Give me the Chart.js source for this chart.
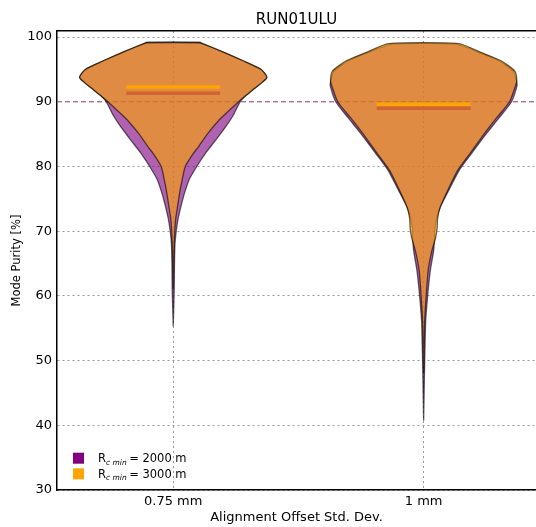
<!DOCTYPE html>
<html>
<head>
    <title>RUN01ULU</title>
    <script src="https://cdn.jsdelivr.net/npm/chart.js"></script>
    <style>
        body { margin: 0; background: #fff; }
    </style>
</head>
<body>
    <canvas id="violinChart" width="536" height="527"></canvas>
    <script>
        // categories on the x axis (positions 0 and 1)
        const categories = ['0.75 mm', '1 mm'];
        const xTicks = [0, 1];
        const yTicks = [30, 40, 50, 60, 70, 80, 90, 100];
        const legendLabels = ['2000 m', '3000 m'];

        // violin outlines: purity levels and half widths (x-axis units)
        const purpleLevels075 = [55.3, 58, 61, 65, 68, 70, 72, 74, 76, 78, 80, 82, 84, 86, 88, 90, 91, 92, 93, 93.8, 95, 96.3, 97.8, 98.9, 99.2];
        const purpleWidths075 = [0, 0.002, 0.004, 0.005, 0.007, 0.012, 0.020, 0.032, 0.046, 0.064, 0.094, 0.128, 0.168, 0.207, 0.241, 0.267, 0.291, 0.323, 0.355, 0.374, 0.351, 0.281, 0.193, 0.122, 0.104];
        const orangeLevels075 = [61, 64, 67, 70, 72, 74, 76, 78, 80, 82, 83, 85, 87, 88.5, 90, 91, 92, 93, 93.8, 95, 96.3, 97.8, 98.9, 99.1];
        const orangeWidths075 = [0, 0.002, 0.003, 0.006, 0.010, 0.018, 0.026, 0.036, 0.048, 0.080, 0.100, 0.136, 0.179, 0.219, 0.261, 0.291, 0.323, 0.355, 0.374, 0.351, 0.281, 0.193, 0.122, 0.104];

        const purpleLevels1 = [40.7, 45, 49.7, 53, 56, 60, 64, 67, 69, 70.5, 72, 73.7, 76.3, 79.4, 82, 85, 87.5, 90, 92.5, 93.2, 94.7, 96.3, 97.6, 98.9];
        const purpleWidths1 = [0, 0.002, 0.004, 0.006, 0.008, 0.016, 0.027, 0.040, 0.044, 0.046, 0.052, 0.066, 0.100, 0.142, 0.191, 0.249, 0.301, 0.351, 0.373, 0.371, 0.359, 0.303, 0.223, 0.128];
        const orangeLevels1 = [48, 52, 56, 60, 64, 67, 69, 70.5, 72, 73.7, 76.3, 79.4, 82, 85, 87.5, 90, 92.5, 93.2, 94.7, 96.3, 97.6, 99];
        const orangeWidths1 = [0, 0.002, 0.004, 0.010, 0.018, 0.033, 0.048, 0.054, 0.056, 0.066, 0.096, 0.136, 0.185, 0.241, 0.291, 0.343, 0.367, 0.372, 0.365, 0.311, 0.231, 0.140];

        // mean purity per category
        const purpleMeans = [91.3, 89.0];
        const orangeMeans = [92.3, 89.6];
        const meanHalfWidth = 0.1875;
        const refLine = 90;

        const FONT = '"DejaVu Sans", sans-serif';

        const violinPoints = (center, levels, widths) => {
            const right = levels.map((y, i) => ({ x: center + widths[i], y: y }));
            const left = levels.map((y, i) => ({ x: center - widths[i], y: y })).reverse();
            return right.concat(left);
        };

        const violin = (center, levels, widths, fillColor, order) => ({
            data: violinPoints(center, levels, widths),
            backgroundColor: fillColor,
            borderColor: 'rgba(0, 0, 0, 0.6)',
            borderWidth: 1.3,
            fill: 'shape',
            tension: 0.2,
            pointRadius: 0,
            order: order
        });

        const meanLine = (center, value, color, order) => ({
            data: [{ x: center - meanHalfWidth, y: value }, { x: center + meanHalfWidth, y: value }],
            borderColor: color,
            borderWidth: 3.5,
            fill: false,
            pointRadius: 0,
            order: order
        });

        const xMin = -0.4641, xMax = 1.4487;

        const datasets = [
            violin(0, purpleLevels075, purpleWidths075, 'rgba(128, 0, 128, 0.62)', 5),
            violin(1, purpleLevels1, purpleWidths1, 'rgba(128, 0, 128, 0.62)', 5),
            meanLine(0, purpleMeans[0], '#800080', 4),
            meanLine(1, purpleMeans[1], '#800080', 4),
            violin(0, orangeLevels075, orangeWidths075, 'rgba(255, 165, 0, 0.61)', 3),
            violin(1, orangeLevels1, orangeWidths1, 'rgba(255, 165, 0, 0.61)', 3),
            meanLine(0, orangeMeans[0], '#FFA500', 2),
            meanLine(1, orangeMeans[1], '#FFA500', 2),
            {
                data: [{ x: xMin, y: refLine }, { x: xMax, y: refLine }],
                borderColor: '#8a3a66',
                borderWidth: 1,
                borderDash: [5, 3],
                fill: false,
                pointRadius: 0,
                order: 6
            }
        ];

        // legend with subscript text, drawn inside the plot
        const subLegend = {
            id: 'subLegend',
            afterDatasetsDraw(chart) {
                const { ctx, chartArea } = chart;
                const colors = ['#800080', '#FFA500'];
                ctx.save();
                legendLabels.forEach((lab, i) => {
                    const x = chartArea.left + 16;
                    const y = chartArea.bottom - 37.3 + i * 15.6;
                    ctx.fillStyle = colors[i];
                    ctx.fillRect(x, y, 11, 11);
                    ctx.fillStyle = '#000';
                    ctx.textBaseline = 'alphabetic';
                    let tx = x + 25;
                    const base = y + 9.5;
                    ctx.font = '11.5px ' + FONT;
                    ctx.fillText('R', tx, base);
                    tx += ctx.measureText('R').width;
                    ctx.font = 'italic 7.5px ' + FONT;
                    ctx.fillText('c min', tx, base + 2.5);
                    tx += ctx.measureText('c min').width + 2.5;
                    ctx.font = '11.5px ' + FONT;
                    ctx.fillText('= ' + lab, tx, base);
                });
                ctx.restore();
            }
        };

        new Chart(document.getElementById('violinChart').getContext('2d'), {
            type: 'line',
            data: { datasets: datasets },
            plugins: [subLegend],
            options: {
                responsive: false,
                animation: false,
                layout: { padding: 0 },
                plugins: {
                    legend: { display: false },
                    tooltip: { enabled: false }
                },
                scales: {
                    x: {
                        type: 'linear',
                        min: xMin,
                        max: xMax,
                        afterBuildTicks: scale => { scale.ticks = xTicks.map(v => ({ value: v })); },
                        afterFit: scale => { scale.height = 37; },
                        ticks: {
                            callback: value => categories[value],
                            color: '#000',
                            font: { family: FONT, size: 13 },
                            padding: 4,
                            maxRotation: 0
                        },
                        grid: { color: '#999', lineWidth: 1, drawTicks: false },
                        border: { display: true, color: '#000', width: 1.5, dash: [2, 3] },
                        title: {
                            display: true,
                            text: 'Alignment Offset Std. Dev.',
                            color: '#000',
                            font: { family: FONT, size: 13 },
                            padding: { top: 0, bottom: 2 }
                        }
                    },
                    // top spine, carries the chart title centred over the plot
                    x2: {
                        type: 'linear',
                        position: 'top',
                        min: xMin,
                        max: xMax,
                        afterFit: scale => { scale.height = 31; },
                        ticks: { display: false },
                        grid: { display: false },
                        border: { display: true, color: '#000', width: 1.5 },
                        title: {
                            display: true,
                            text: 'RUN01ULU',
                            color: '#000',
                            font: { family: FONT, size: 15 },
                            padding: { top: 11, bottom: 2 }
                        }
                    },
                    y: {
                        type: 'linear',
                        min: 30,
                        max: 100.94,
                        afterBuildTicks: scale => { scale.ticks = yTicks.map(v => ({ value: v })); },
                        afterFit: scale => { scale.width = 57; },
                        ticks: {
                            color: '#000',
                            font: { family: FONT, size: 13 },
                            padding: 5
                        },
                        grid: {
                            color: ctx => (ctx.tick && ctx.tick.value === refLine) ? 'rgba(0,0,0,0)' : '#999',
                            lineWidth: 1,
                            drawTicks: false
                        },
                        border: { display: true, color: '#000', width: 1.5, dash: [2, 3] },
                        title: {
                            display: true,
                            text: 'Mode Purity [%]',
                            color: '#000',
                            font: { family: FONT, size: 11.5 },
                            padding: { top: 10, bottom: 0 }
                        }
                    }
                }
            }
        });
    </script>
</body>
</html>
